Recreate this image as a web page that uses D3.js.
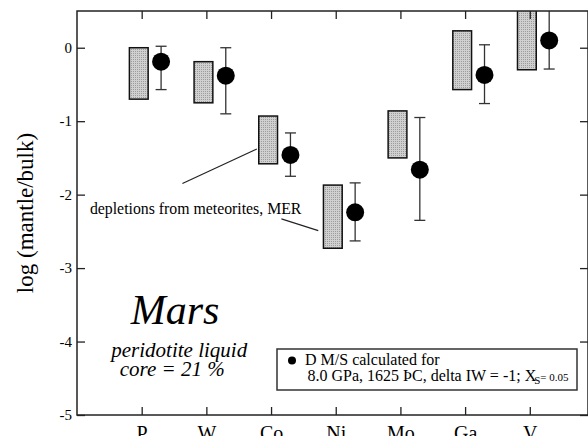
<!DOCTYPE html>
<html>
<head>
<meta charset="utf-8">
<script src="https://cdn.jsdelivr.net/npm/d3@7"></script>
<style>
  body { margin: 0; background: #fff; }
</style>
</head>
<body>
<div id="chart"></div>
<script>
// Data
var elements = ["P", "W", "Co", "Ni", "Mo", "Ga", "V"];
var merLow  = [-0.70, -0.75, -1.58, -2.73, -1.50, -0.57, -0.30];
var merHigh = [ 0.00, -0.19, -0.93, -1.87, -0.86,  0.23,  0.55];
var dValue  = [-0.19, -0.38, -1.46, -2.24, -1.66, -0.37,  0.10];
var dLow    = [-0.57, -0.90, -1.75, -2.63, -2.35, -0.76, -0.29];
var dHigh   = [ 0.02,  0.00, -1.16, -1.84, -0.95,  0.04,  0.55];
var yTicks  = [-5, -4, -3, -2, -1, 0];

var serif = "'Liberation Serif', 'Times New Roman', serif";

// Set graph margins and dimensions
var margin = {top: 11, right: 0, bottom: 21, left: 77},
    width = 588 - margin.left - margin.right,
    height = 436 - margin.top - margin.bottom;

var x = d3.scaleLinear().domain([0, 7.9]).range([0, width]);
var y = d3.scaleLinear().domain([-5, 0.5]).range([height, 0]);

var svg = d3.select("#chart").append("svg")
    .attr("width", 588)
    .attr("height", 436)
    .attr("font-family", serif);

var defs = svg.append("defs");
defs.append("clipPath").attr("id", "plotclip")
  .append("rect").attr("width", width).attr("height", height);

// stippled gray fill
var pat = defs.append("pattern").attr("id", "stipple")
    .attr("patternUnits", "userSpaceOnUse").attr("width", 2).attr("height", 2);
pat.append("rect").attr("width", 2).attr("height", 2).attr("fill", "#d0d0d0");
pat.append("rect").attr("width", 1).attr("height", 1).attr("fill", "#9c9c9c");

var g = svg.append("g")
    .attr("transform", "translate(" + margin.left + "," + margin.top + ")");

var idx = d3.range(elements.length);
var plot = g.append("g").attr("clip-path", "url(#plotclip)");

// meteorite depletion ranges (boxes)
plot.selectAll(".mer")
    .data(idx)
  .enter().append("rect")
    .attr("class", "mer")
    .attr("x", function(i) { return x(i + 1 - 0.19); })
    .attr("width", x(0.29) - x(0))
    .attr("y", function(i) { return y(merHigh[i]); })
    .attr("height", function(i) { return y(merLow[i]) - y(merHigh[i]); })
    .attr("fill", "url(#stipple)")
    .attr("stroke", "#111")
    .attr("stroke-width", 1.5);

// error bars
var eb = plot.selectAll(".err").data(idx).enter().append("g").attr("class", "err")
    .attr("stroke", "#333").attr("stroke-width", 1.3);
eb.append("line")
    .attr("x1", function(i) { return x(i + 1.3); })
    .attr("x2", function(i) { return x(i + 1.3); })
    .attr("y1", function(i) { return y(dLow[i]); })
    .attr("y2", function(i) { return y(dHigh[i]); });
eb.append("line")
    .attr("x1", function(i) { return x(i + 1.3) - 5.5; })
    .attr("x2", function(i) { return x(i + 1.3) + 5.5; })
    .attr("y1", function(i) { return y(dLow[i]); })
    .attr("y2", function(i) { return y(dLow[i]); });
eb.append("line")
    .attr("x1", function(i) { return x(i + 1.3) - 5.5; })
    .attr("x2", function(i) { return x(i + 1.3) + 5.5; })
    .attr("y1", function(i) { return y(dHigh[i]); })
    .attr("y2", function(i) { return y(dHigh[i]); });

plot.selectAll(".dot")
    .data(idx)
  .enter().append("circle")
    .attr("class", "dot")
    .attr("cx", function(i) { return x(i + 1.3); })
    .attr("cy", function(i) { return y(dValue[i]); })
    .attr("r", 9)
    .attr("fill", "#000");

// frame and ticks
var axisColor = "#222";
g.append("rect").attr("width", width).attr("height", height)
    .attr("fill", "none").attr("stroke", axisColor).attr("stroke-width", 1.5);

var leftAxis = g.append("g").call(d3.axisLeft(y).tickValues(yTicks).tickSizeInner(-8)
    .tickSizeOuter(0).tickPadding(5).tickFormat(function(d) { return String(d); }));
leftAxis.select(".domain").remove();
leftAxis.selectAll("text").style("font-size", "15px");

var rightAxis = g.append("g").attr("transform", "translate(" + width + ",0)")
    .call(d3.axisRight(y).tickValues(yTicks).tickSize(-8).tickFormat(""));
rightAxis.select(".domain").remove();

var bottomAxis = g.append("g").attr("transform", "translate(0," + height + ")")
    .call(d3.axisBottom(x).tickValues(d3.range(1, 8)).tickSizeInner(-8).tickSizeOuter(0)
      .tickPadding(11).tickFormat(function(d) { return elements[d - 1]; }));
bottomAxis.select(".domain").remove();
bottomAxis.selectAll("text").style("font-size", "20px");

var topAxis = g.append("g")
    .call(d3.axisTop(x).tickValues(d3.range(1, 8)).tickSize(-8).tickFormat(""));
topAxis.select(".domain").remove();

g.selectAll(".tick line").attr("stroke", axisColor).attr("stroke-width", 1.3);

// y axis title
g.append("text")
    .attr("transform", "rotate(-90)")
    .attr("x", -height / 2)
    .attr("y", -margin.left + 33)
    .style("text-anchor", "middle")
    .style("font-size", "23px")
    .text("log (mantle/bulk)");

// annotation
g.append("text")
    .attr("x", x(0.2)).attr("y", y(-2.27))
    .style("font-size", "15.8px")
    .text("depletions from meteorites, MER");
g.append("line")
    .attr("x1", x(1.63)).attr("y1", y(-1.85))
    .attr("x2", x(2.78)).attr("y2", y(-1.38))
    .attr("stroke", "#222").attr("stroke-width", 1.1);
g.append("line")
    .attr("x1", x(3.16)).attr("y1", y(-2.33))
    .attr("x2", x(3.73)).attr("y2", y(-2.49))
    .attr("stroke", "#222").attr("stroke-width", 1.1);

// planet label
g.append("text")
    .attr("x", x(0.83)).attr("y", y(-3.76))
    .style("font-size", "42px").style("font-style", "italic")
    .text("Mars");
g.append("text")
    .attr("x", x(0.53)).attr("y", y(-4.21))
    .style("font-size", "21px").style("font-style", "italic")
    .text("peridotite liquid");
g.append("text")
    .attr("x", x(0.66)).attr("y", y(-4.475))
    .style("font-size", "21px").style("font-style", "italic")
    .text("core = 21 %");

// legend
var lg = g.append("g").attr("transform", "translate(" + (277 - margin.left) + "," + (349 - margin.top) + ")");
lg.append("rect").attr("width", 300).attr("height", 41)
    .attr("fill", "#fff").attr("stroke", "#333").attr("stroke-width", 1.5);
lg.append("circle").attr("cx", 15).attr("cy", 11.5).attr("r", 4).attr("fill", "#000");
lg.append("text").attr("x", 28).attr("y", 15.5).style("font-size", "16px")
    .text("D M/S calculated for");
var l2 = lg.append("text").attr("x", 30.5).attr("y", 32).style("font-size", "16px");
l2.append("tspan").text("8.0 GPa, 1625 ÞC, delta IW = -1; X");
l2.append("tspan").attr("dx", -2).attr("dy", 3).style("font-size", "11px").text("S");
l2.append("tspan").attr("dy", -3).style("font-size", "11px").text("= 0.05");

g.selectAll("text").style("font-family", serif).attr("fill", "#000");
</script>
</body>
</html>
